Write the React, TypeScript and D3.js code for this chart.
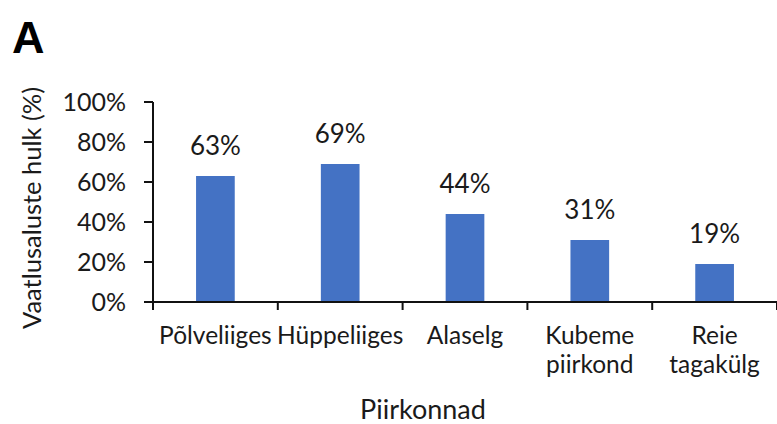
import React from "react";
import * as d3 from "d3";

// Share of participants by region (%)
const categories: string[][] = [
  ["Põlveliiges"],
  ["Hüppeliiges"],
  ["Alaselg"],
  ["Kubeme", "piirkond"],
  ["Reie", "tagakülg"],
];
const values: number[] = [63, 69, 44, 31, 19];
const yTicks: number[] = [0, 20, 40, 60, 80, 100];

const W = 777;
const H = 424;
const margin = { left: 153, right: 0, top: 102, bottom: 122 };
const FONT = "Lato, 'Open Sans', sans-serif";
const TEXT = "#1a1a1a";
const AXIS = "#111";
const BAR = "#4472C4";

export default function App() {
  const x = d3
    .scaleBand<number>()
    .domain(values.map((_, i) => i))
    .range([margin.left, W - margin.right])
    .paddingInner(0.69)
    .paddingOuter(0.345);
  const band = d3
    .scaleBand<number>()
    .domain(values.map((_, i) => i))
    .range([margin.left, W - margin.right]);
  const y = d3.scaleLinear().domain([0, 100]).range([H - margin.bottom, margin.top]);
  const y0 = y(0);

  const boundaries = d3.range(values.length + 1).map((i) => margin.left + i * band.step());

  return (
    <svg
      width={W}
      height={H}
      style={{ position: "absolute", left: 0, top: 0, background: "#fff" }}
      fontFamily={FONT}
    >
      <text x={12} y={53} fontSize={45} fontWeight="bold" fill="#000" fontFamily="'Liberation Sans', Arial, sans-serif">
        A
      </text>

      {/* y axis title */}
      <text
        transform={`translate(41, ${(y(0) + y(100)) / 2 + 6}) rotate(-90)`}
        textAnchor="middle"
        fontSize={25.5}
        fill={TEXT}
      >
        Vaatlusaluste hulk (%)
      </text>

      {/* bars */}
      {values.map((v, i) => (
        <rect key={i} x={x(i)} y={y(v)} width={x.bandwidth()} height={y0 - y(v)} fill={BAR} />
      ))}

      {/* value labels */}
      {values.map((v, i) => (
        <text
          key={i}
          x={(x(i) as number) + x.bandwidth() / 2}
          y={y(v) - 21}
          textAnchor="middle"
          fontSize={26}
          fill={TEXT}
        >
          {`${v}%`}
        </text>
      ))}

      {/* y axis */}
      <line x1={margin.left} x2={margin.left} y1={y(100)} y2={y0} stroke={AXIS} strokeWidth={2} />
      {yTicks.map((t) => (
        <g key={t}>
          <line x1={margin.left - 9} x2={margin.left} y1={y(t)} y2={y(t)} stroke={AXIS} strokeWidth={2} />
          <text x={126} y={y(t) + 8.5} textAnchor="end" fontSize={25} fill={TEXT}>
            {`${t}%`}
          </text>
        </g>
      ))}

      {/* x axis */}
      <line x1={margin.left - 9} x2={W} y1={y0} y2={y0} stroke={AXIS} strokeWidth={2} />
      {boundaries.map((bx, i) => (
        <line key={i} x1={bx} x2={bx} y1={y0} y2={y0 + 8} stroke={AXIS} strokeWidth={2} />
      ))}
      {categories.map((lines, i) => (
        <text
          key={i}
          x={(band(i) as number) + band.bandwidth() / 2}
          y={344}
          textAnchor="middle"
          fontSize={24.5}
          fill={TEXT}
        >
          {lines.map((l, j) => (
            <tspan key={j} x={(band(i) as number) + band.bandwidth() / 2} dy={j === 0 ? 0 : 29}>
              {l}
            </tspan>
          ))}
        </text>
      ))}

      {/* x axis title */}
      <text x={423} y={419} textAnchor="middle" fontSize={27} fill={TEXT}>
        Piirkonnad
      </text>
    </svg>
  );
}
